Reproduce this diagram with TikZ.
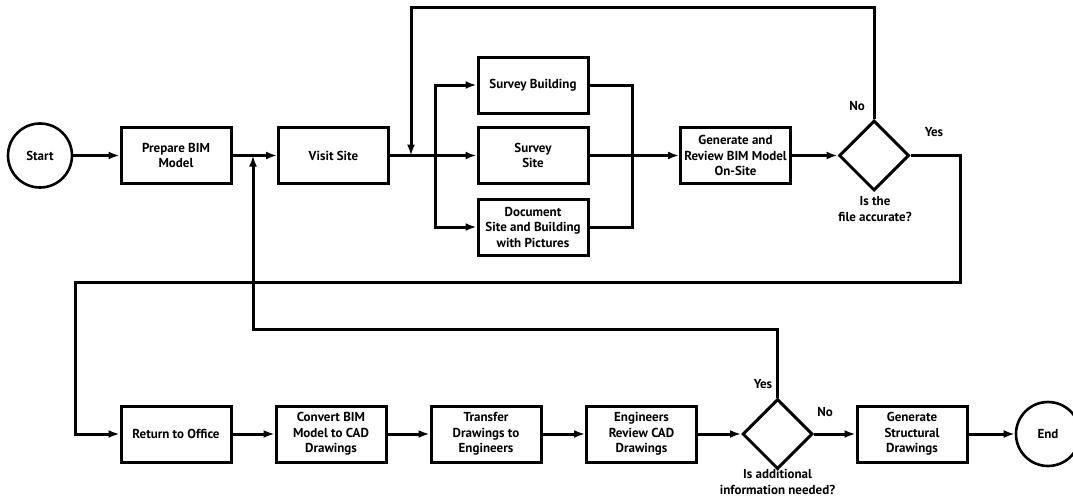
\documentclass[tikz,border=0pt]{standalone}
\usepackage{fontspec}
\setmainfont{PT Sans}
\usetikzlibrary{arrows.meta, positioning, shapes.geometric}

\begin{document}
\begin{tikzpicture}[x=1pt, y=-1pt,
  every node/.style = {font=\bfseries\fontsize{13}{15.5}\selectfont, align=center},
  term/.style = {circle, draw=black, line width=2.6pt, minimum size=64pt, inner sep=0pt},
  task/.style = {rectangle, draw=black, line width=3pt, minimum width=110pt, minimum height=56pt, inner sep=1pt},
  choice/.style = {diamond, draw=black, line width=3pt, minimum width=70pt, minimum height=70pt, inner sep=0pt},
  line/.style = {line width=3pt},
  arrow/.style = {line width=3pt, -{Latex[length=11pt, width=8pt]}}
]
\useasboundingbox (0,0) rectangle (1073,499);

\node[term] (start) at (40, 155.5) {Start};
\node[task] (prep) at (176, 155.5) {Prepare BIM\\Model};
\node[task] (visit) at (333.5, 155.5) {Visit Site};

\node[task] (survB) at (533, 85) {Survey Building};
\node[task] (survS) at (533, 155.5) {Survey\\Site};
\node[task] (doc) at (533, 227) {Document\\Site and Building\\with Pictures};

\node[task] (genRev) at (735.5, 155.5) {Generate and\\Review BIM Model\\On-Site};
\node[choice] (accurate) at (874, 155.5) {};

\node[task] (ret) at (176, 434) {Return to Office};
\node[task] (conv) at (331, 434) {Convert BIM\\Model to CAD\\Drawings};
\node[task] (trans) at (486, 434) {Transfer\\Drawings to\\Engineers};
\node[task] (eng) at (641.5, 434) {Engineers\\Review CAD\\Drawings};
\node[choice] (addInfo) at (777.5, 434) {};
\node[task] (genStr) at (912, 434) {Generate\\Structural\\Drawings};
\node[term] (endc) at (1048, 434) {End};

% Labels
\node (noTxt) at (857, 106) {No};
\node (yesTxt) at (934, 132) {Yes};
\node (accTxt) at (875, 209) {Is the\\file accurate?};
\node (yes2Txt) at (763, 384) {Yes};
\node (no2Txt) at (825, 412) {No};
\node (addTxt) at (777.5, 482) {Is additional\\information needed?};

% Junctions
\coordinate (split) at (435, 155.5);
\coordinate (merge) at (632, 155.5);
\coordinate (noTop) at (411, 7);
\coordinate (noIn) at (411, 155.5);
\coordinate (yesR) at (960, 282);
\coordinate (yesL) at (75, 282);
\coordinate (backTop) at (253, 329);
\coordinate (backIn) at (253, 155.5);

% Top row
\draw[arrow] (start.east) -- (prep.west);
\draw[arrow] (prep.east) -- (visit.west);
\draw[line] (visit.east) -- (split);
\draw[arrow] (split) -- (survS.west);
\draw[arrow] (split) |- (survB.west);
\draw[arrow] (split) |- (doc.west);
\draw[line] (survB.east) -| (merge);
\draw[line] (doc.east) -| (merge);
\draw[line] (survS.east) -- (merge);
\draw[arrow] (merge) -- (genRev.west);
\draw[arrow] (genRev.east) -- (accurate.west);

% Loops
\draw[arrow] (accurate.north) |- (noTop) -- (noIn);
\draw[arrow] (accurate.east) -| (yesR) -- (yesL) |- (ret.west);
\draw[arrow] (addInfo.north) |- (backTop) -- (backIn);

% Bottom row
\draw[arrow] (ret.east) -- (conv.west);
\draw[arrow] (conv.east) -- (trans.west);
\draw[arrow] (trans.east) -- (eng.west);
\draw[arrow] (eng.east) -- (addInfo.west);
\draw[arrow] (addInfo.east) -- (genStr.west);
\draw[arrow] (genStr.east) -- (endc.west);
\end{tikzpicture}
\end{document}
